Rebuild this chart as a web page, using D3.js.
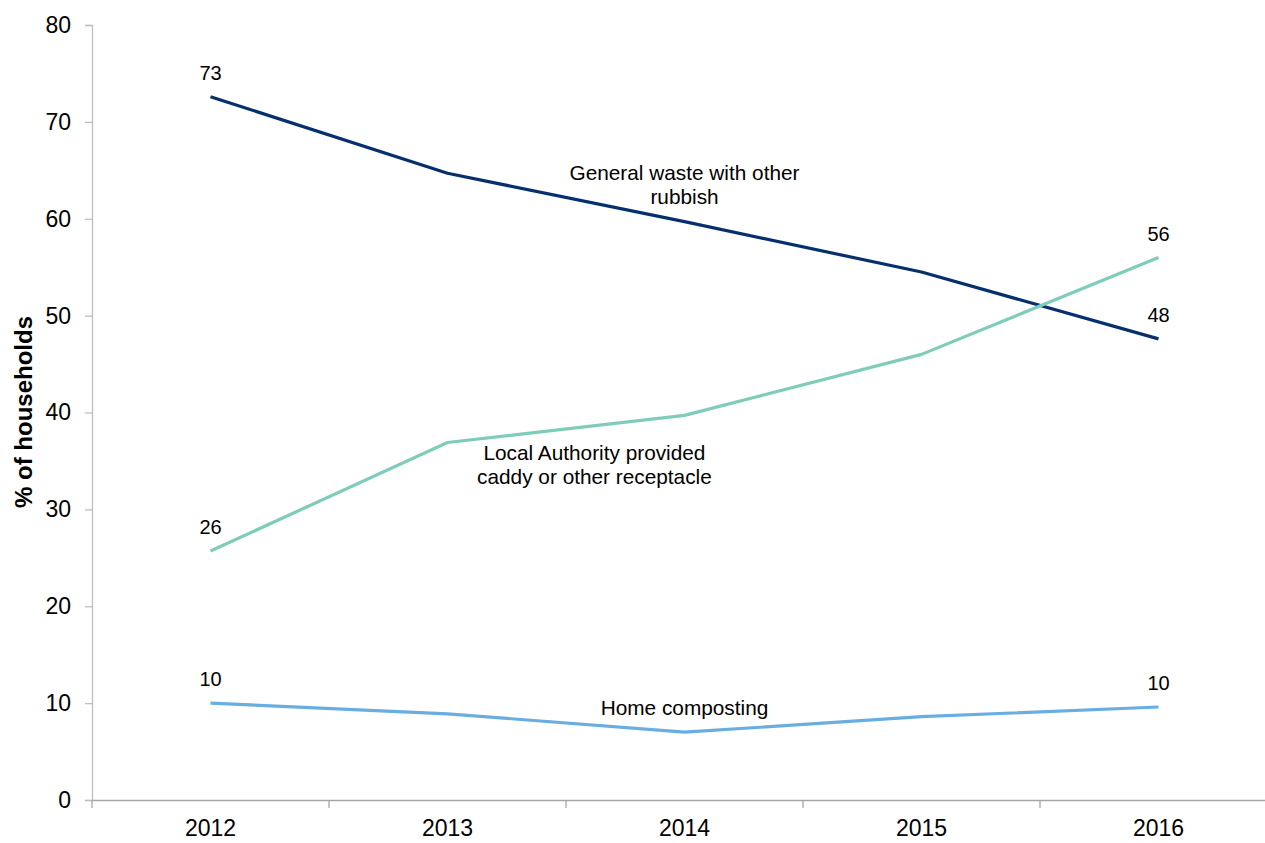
<!DOCTYPE html>
<html>
<head>
<meta charset="utf-8">
<script src="https://cdn.jsdelivr.net/npm/d3@7"></script>
<style>
  body { margin: 0; background: #fff; }
  svg { font-family: "Liberation Sans", Arial, sans-serif; }
</style>
</head>
<body>
<svg id="chart" width="1265" height="843"></svg>
<script>
// Household food waste disposal method, 2012–2016
const years = ["2012", "2013", "2014", "2015", "2016"];
const generalWaste = [72.6, 64.7, 59.7, 54.5, 47.6];
const councilCaddy = [25.7, 36.9, 39.7, 46.0, 56.0];
const homeComposting = [10.0, 8.9, 7.0, 8.6, 9.6];
const yTicks = [0, 10, 20, 30, 40, 50, 60, 70, 80];

const series = [
  { name: ["General waste with other", "rubbish"], values: generalWaste, color: "#062f6e",
    labelAt: 2.0, labelVal: 64.0 },
  { name: ["Local Authority provided", "caddy or other receptacle"], values: councilCaddy, color: "#7fccbb",
    labelAt: 1.62, labelVal: 35.1 },
  { name: ["Home composting"], values: homeComposting, color: "#6aade0",
    labelAt: 2.0, labelVal: 8.8 }
];

const svg = d3.select("#chart");
const plotLeft = 92, plotRight = 1277, plotTop = 25, plotBottom = 800;

const x = d3.scaleBand().domain(years).range([plotLeft, plotRight]).padding(0);
const y = d3.scaleLinear().domain([0, 80]).range([plotBottom, plotTop]);
const cx = d => x(d) + x.bandwidth() / 2;
const cxAt = f => plotLeft + x.bandwidth() * (f + 0.5);

// Y axis
const yAxis = svg.append("g")
  .attr("transform", `translate(${plotLeft},0)`)
  .call(d3.axisLeft(y).tickValues(yTicks).tickSize(7).tickPadding(14).tickFormat(d3.format("d")));
yAxis.select(".domain").attr("stroke", "#bfbfbf").attr("stroke-width", 1.3);
yAxis.selectAll(".tick line").attr("stroke", "#bfbfbf").attr("stroke-width", 1.3);
yAxis.selectAll(".tick text").attr("font-size", 23).attr("fill", "#000")
  .attr("font-family", "Liberation Sans, Arial, sans-serif");

// X axis with tick marks on band boundaries
const xAxis = svg.append("g")
  .attr("transform", `translate(0,${plotBottom})`)
  .call(d3.axisBottom(x).tickSize(0).tickPadding(20));
xAxis.select(".domain").attr("stroke", "#a6a6a6").attr("stroke-width", 1.3);
xAxis.selectAll(".tick text").attr("font-size", 23).attr("fill", "#000")
  .attr("font-family", "Liberation Sans, Arial, sans-serif");
const boundaries = years.map(d => x(d)).concat([x(years[years.length - 1]) + x.bandwidth()]);
svg.append("g").selectAll("line").data(boundaries).join("line")
  .attr("x1", d => d).attr("x2", d => d)
  .attr("y1", plotBottom).attr("y2", plotBottom + 8)
  .attr("stroke", "#a6a6a6").attr("stroke-width", 1.3);

// Y axis title
svg.append("text")
  .attr("transform", `translate(32,412) rotate(-90)`)
  .attr("text-anchor", "middle")
  .attr("font-size", 24).attr("font-weight", "bold")
  .text("% of households");

// Lines
const line = d3.line().x((d, i) => cx(years[i])).y(d => y(d));
series.forEach(s => {
  svg.append("path")
    .datum(s.values)
    .attr("d", line)
    .attr("fill", "none")
    .attr("stroke", s.color)
    .attr("stroke-width", 3.2)
    .attr("stroke-linejoin", "round");

  // Value labels on first and last year
  [0, s.values.length - 1].forEach(i => {
    svg.append("text")
      .attr("x", cx(years[i]))
      .attr("y", y(s.values[i]) - 17)
      .attr("text-anchor", "middle")
      .attr("font-size", 20)
      .text(d3.format(".0f")(s.values[i]));
  });

  // Series name label
  const lx = cxAt(s.labelAt);
  const t = svg.append("text")
    .attr("text-anchor", "middle")
    .attr("font-size", 20.8);
  s.name.forEach((ln, k) => {
    t.append("tspan").attr("x", lx).attr("y", y(s.labelVal) + k * 24).text(ln);
  });
});
</script>
</body>
</html>
